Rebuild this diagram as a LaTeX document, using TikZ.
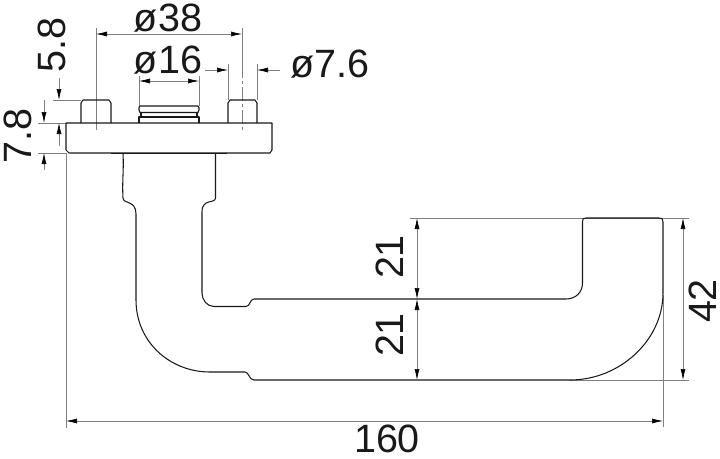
\documentclass[tikz,border=0pt]{standalone}
\usepackage{fontspec}
\setmainfont{Liberation Sans}
\usetikzlibrary{arrows.meta}
\tikzset{
  outline/.style={draw=black!90,line width=1.05pt,line join=round},
  thin dim/.style={draw=black!50,line width=0.65pt},
  tipped/.style={thin dim,{Latex[length=11pt,width=5pt,black]}-{Latex[length=11pt,width=5pt,black]}},
  tipend/.style={thin dim,-{Latex[length=11pt,width=5pt,black]}},
  label/.style={inner sep=0pt,font=\fontsize{39.5}{39.5}\selectfont,text=black!90}
}
\begin{document}
\begin{tikzpicture}[x=1pt,y=-1pt]
\useasboundingbox (0,0) rectangle (720,458);
% extension lines
\draw[thin dim] (96,28) -- (96,130);
\draw[thin dim] (242,28) -- (242,64);
\draw[thin dim,dash pattern=on 14pt off 3pt on 3pt off 3pt] (242,64) -- (242,130);
\draw[thin dim] (139,76) -- (139,106) (199,76) -- (199,106);
\draw[thin dim] (228,64) -- (228,100) (257,64) -- (257,100);
\draw[thin dim] (53,100) -- (81,100);
\draw[thin dim] (38,123) -- (66,123) (38,153) -- (66,153);
\draw[thin dim] (66,153) -- (66,428);
\draw[thin dim] (663,295) -- (663,427);
\draw[thin dim] (410,218) -- (689,218);
\draw[thin dim] (570,380) -- (689,380);
% dimension lines
\draw[tipped] (96,34) -- (242,34);
\draw[tipped] (139,81) -- (199,81);
\draw[tipend] (205,70) -- (228,70);
\draw[tipend] (280,70) -- (257,70);
\draw[tipend] (59,78) -- (59,100);
\draw[tipend] (59,146) -- (59,123);
\draw[tipend] (44,100) -- (44,123);
\draw[tipend] (44,170) -- (44,153);
\draw[tipped] (417,218) -- (417,299);
\draw[tipped] (417,299) -- (417,380);
\draw[tipped] (683,218) -- (683,380);
\draw[tipped] (66,421) -- (663,421);
% pins and flange
\draw[outline] (81,123) -- (81,103) -- (83,100) -- (109,100) -- (111,103) -- (111,123);
\draw[outline] (228,123) -- (228,103) -- (230,100) -- (255,100) -- (257,103) -- (257,123);
\draw[outline] (139,123) -- (139,117) -- (199,117) -- (199,123);
\draw[outline] (141,113) -- (141,117) (197,113) -- (197,117);
\draw[outline] (139,110) -- (139,107.5) -- (140,106) -- (198,106) -- (199,107.5) -- (199,110) -- (198,112.5) -- (140,112.5) -- cycle;
\draw[outline] (66,123) -- (272,123) -- (272,150) -- (270,153) -- (69,153) -- (66,150) -- cycle;
\draw[outline,line width=1.5pt] (111,153.7) -- (227,153.7);
% handle
\draw[outline]
  (123,154) .. controls (124,170) and (122,180) .. (123,198)
  .. controls (123,204) and (136,200) .. (136,214)
  -- (136,300) .. controls (136,342) and (170,372) .. (210,372)
  -- (245,372) .. controls (249,372) and (249,380) .. (254,380)
  -- (570,380) .. controls (620,380) and (663,340) .. (663,293)
  -- (663,222) .. controls (663,219) and (662,218) .. (659,218)
  -- (586,218) .. controls (583,218) and (582.5,219) .. (582.5,222)
  -- (582.5,283) .. controls (582.5,292) and (576,299) .. (566,299)
  -- (254,299) .. controls (250,299) and (250,306.5) .. (246,306.5)
  -- (214,306.5) .. controls (207,306.5) and (202,300) .. (202,293)
  -- (202,212) .. controls (202,198) and (215.5,204) .. (215.5,198)
  -- (215.5,154);
% labels
\node[label] (d38) at (168,18) {ø38};
\node[label] (d16) at (168,60) {ø16};
\node[label] (d76) at (330,64) {ø7.6};
\node[label,rotate=90] (h58) at (52,45) {5.8};
\node[label,rotate=90] (h78) at (18,136) {7.8};
\node[label,rotate=90] (h21a) at (390,257) {21};
\node[label,rotate=90] (h21b) at (390,335) {21};
\node[label,rotate=90] (h42) at (703,301) {42};
\node[label] (w160) at (387,439) {160};
\end{tikzpicture}
\end{document}
